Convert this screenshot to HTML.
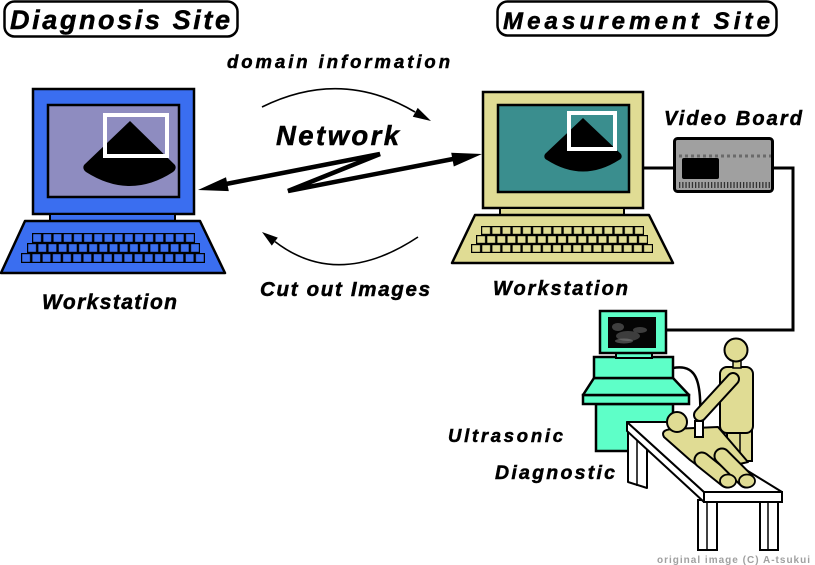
<!DOCTYPE html>
<html><head><meta charset="utf-8"><style>
html,body{margin:0;padding:0;background:#fff;}
svg{display:block;}
text{font-family:"Liberation Sans",sans-serif;font-weight:bold;font-style:italic;fill:#000;stroke:#000;stroke-width:0.5;}
</style></head><body>
<svg width="815" height="565" viewBox="0 0 815 565" xmlns="http://www.w3.org/2000/svg">
<defs>
<pattern id="kl1" x="32" y="233" width="10.19" height="10" patternUnits="userSpaceOnUse"><rect x="1.2" y="1.2" width="7.8" height="7.6" fill="#3a6ef0"/></pattern>
<pattern id="kl2" x="27" y="243" width="10.18" height="10" patternUnits="userSpaceOnUse"><rect x="1.2" y="1.2" width="7.8" height="7.6" fill="#3a6ef0"/></pattern>
<pattern id="kl3" x="21" y="253" width="10.22" height="10" patternUnits="userSpaceOnUse"><rect x="1.2" y="1.2" width="7.8" height="7.6" fill="#3a6ef0"/></pattern>
<pattern id="kr1" x="481" y="226" width="10.19" height="9" patternUnits="userSpaceOnUse"><rect x="1.2" y="1.2" width="7.8" height="6.6" fill="#e0dc94"/></pattern>
<pattern id="kr2" x="476" y="235" width="10.12" height="9" patternUnits="userSpaceOnUse"><rect x="1.2" y="1.2" width="7.8" height="6.6" fill="#e0dc94"/></pattern>
<pattern id="kr3" x="471" y="244" width="10.11" height="9" patternUnits="userSpaceOnUse"><rect x="1.2" y="1.2" width="7.8" height="6.6" fill="#e0dc94"/></pattern>
</defs>

<!-- Title boxes -->
<rect x="4.5" y="1.5" width="233" height="35" rx="10" fill="#fff" stroke="#000" stroke-width="2.5"/>
<text x="10" y="29" font-size="27" textLength="220" lengthAdjust="spacing">Diagnosis Site</text>
<rect x="497.5" y="1.5" width="279" height="34" rx="10" fill="#fff" stroke="#000" stroke-width="2.5"/>
<text x="503" y="29" font-size="24" textLength="267" lengthAdjust="spacing">Measurement Site</text>

<!-- Left workstation -->
<rect x="33" y="89" width="161" height="125" fill="#3a6ef0" stroke="#000" stroke-width="2.5"/>
<rect x="48" y="105" width="131" height="92" fill="#8e8cc0" stroke="#000" stroke-width="2.5"/>
<path d="M130,121 L84,165 Q82,169 86,172 Q130,200 173,172 Q177,169 175,165 Z" fill="#000"/>
<rect x="105" y="115" width="62" height="41" fill="none" stroke="#fff" stroke-width="4"/>
<rect x="50" y="214" width="125" height="7" fill="#3a6ef0" stroke="#000" stroke-width="2"/>
<polygon points="25,221 200,221 225,273 1,273" fill="#3a6ef0" stroke="#000" stroke-width="2.5" stroke-linejoin="round"/>
<rect x="32" y="233" width="163" height="10" fill="#000"/><rect x="32" y="233" width="163" height="10" fill="url(#kl1)"/>
<rect x="27" y="243" width="173" height="10" fill="#000"/><rect x="27" y="243" width="173" height="10" fill="url(#kl2)"/>
<rect x="21" y="253" width="184" height="10" fill="#000"/><rect x="21" y="253" width="184" height="10" fill="url(#kl3)"/>
<text x="42" y="309" font-size="21" textLength="135" lengthAdjust="spacing">Workstation</text>

<!-- Right workstation -->
<rect x="483" y="92" width="160" height="116" fill="#e0dc94" stroke="#000" stroke-width="2.5"/>
<rect x="498" y="105" width="131" height="87" fill="#3a8e8e" stroke="#000" stroke-width="2.5"/>
<path d="M583,118 L545,154 Q543,158 547,160 Q583,183 619,160 Q623,158 621,154 Z" fill="#000"/>
<rect x="569" y="113" width="46" height="36" fill="none" stroke="#fff" stroke-width="4"/>
<rect x="500" y="208" width="124" height="7" fill="#e0dc94" stroke="#000" stroke-width="2"/>
<polygon points="475,215 649,215 673,263 452,263" fill="#e0dc94" stroke="#000" stroke-width="2.5" stroke-linejoin="round"/>
<rect x="481" y="226" width="163" height="9" fill="#000"/><rect x="481" y="226" width="163" height="9" fill="url(#kr1)"/>
<rect x="476" y="235" width="172" height="9" fill="#000"/><rect x="476" y="235" width="172" height="9" fill="url(#kr2)"/>
<rect x="471" y="244" width="182" height="9" fill="#000"/><rect x="471" y="244" width="182" height="9" fill="url(#kr3)"/>
<text x="493" y="295" font-size="20" textLength="135" lengthAdjust="spacing">Workstation</text>

<!-- Network labels and arrows -->
<text x="227" y="68" font-size="18.5" textLength="223" lengthAdjust="spacing">domain information</text>
<path d="M262,107 Q341,68 415,112" fill="none" stroke="#000" stroke-width="1.6"/>
<polygon points="431,121 412.8,116.7 417.7,107.9" fill="#000"/>
<text x="276" y="145" font-size="27.5" textLength="123" lengthAdjust="spacing">Network</text>
<polyline points="226,184 380,154 288,191 453,159" fill="none" stroke="#000" stroke-width="4.5" stroke-linejoin="miter" stroke-miterlimit="10"/>
<polygon points="198,190 228.8,191.1 226,177.3" fill="#000"/>
<polygon points="482,154 453.8,166.5 451.2,152.7" fill="#000"/>
<path d="M418,237 Q338,290 275,241.6" fill="none" stroke="#000" stroke-width="1.6"/>
<polygon points="262,232 277.8,237.6 271.8,245.6" fill="#000"/>
<text x="260" y="296" font-size="20.5" textLength="170" lengthAdjust="spacing">Cut out Images</text>

<!-- Video board -->
<text x="664" y="125" font-size="20" textLength="138" lengthAdjust="spacing">Video Board</text>
<line x1="643" y1="168" x2="674" y2="168" stroke="#000" stroke-width="3"/>
<polyline points="773,168 793,168 793,330 666,330" fill="none" stroke="#000" stroke-width="3"/>
<rect x="674.5" y="138.5" width="98" height="53" rx="3" fill="#a0a0a0" stroke="#000" stroke-width="3"/>
<line x1="679" y1="156" x2="771" y2="156" stroke="#6a6a6a" stroke-width="3" stroke-dasharray="3,3"/>
<rect x="682" y="158" width="37" height="21" rx="2" fill="#000"/>
<line x1="679" y1="185" x2="771" y2="185" stroke="#333" stroke-width="6" stroke-dasharray="1.3,1.9"/>

<!-- Ultrasound machine -->
<rect x="596" y="404" width="77" height="47" fill="#5effc8" stroke="#000" stroke-width="2.5"/>
<rect x="583" y="395" width="106" height="9" fill="#5effc8" stroke="#000" stroke-width="2.5"/>
<polygon points="594,378 673,378 689,395 583,395" fill="#5effc8" stroke="#000" stroke-width="2.5" stroke-linejoin="round"/>
<rect x="594" y="357" width="79" height="21" fill="#5effc8" stroke="#000" stroke-width="2.5"/>
<rect x="616" y="353" width="36" height="5" fill="#5effc8" stroke="#000" stroke-width="2"/>
<rect x="600" y="311" width="66" height="42" fill="#5effc8" stroke="#000" stroke-width="2.5"/>
<rect x="608" y="317" width="48" height="31" fill="#050505"/>
<ellipse cx="628" cy="336" rx="12" ry="5" fill="#555" opacity="0.7"/>
<ellipse cx="618" cy="327" rx="6" ry="4" fill="#666" opacity="0.6"/>
<ellipse cx="640" cy="330" rx="7" ry="3" fill="#777" opacity="0.5"/>
<ellipse cx="624" cy="341" rx="9" ry="2.5" fill="#888" opacity="0.5"/>
<path d="M673,368 C695,364 702,378 700,420" fill="none" stroke="#000" stroke-width="2.5"/>

<!-- Standing person (behind table) -->
<rect x="727" y="425" width="25" height="36" fill="#e0dc94" stroke="#000" stroke-width="2"/>
<line x1="740" y1="433" x2="740" y2="460" stroke="#000" stroke-width="1.5"/>
<rect x="720" y="367" width="33" height="66" rx="7" fill="#e0dc94" stroke="#000" stroke-width="2"/>
<rect x="733" y="360" width="8" height="8" fill="#e0dc94" stroke="#000" stroke-width="1.5"/>
<circle cx="736" cy="350" r="11.5" fill="#e0dc94" stroke="#000" stroke-width="2"/>

<!-- Table -->
<polygon points="628,430 647,430 647,488 628,482" fill="#fff" stroke="#000" stroke-width="2" stroke-linejoin="round"/>
<line x1="637" y1="432" x2="637" y2="486" stroke="#000" stroke-width="1.5"/>
<rect x="698" y="500" width="19" height="50" fill="#fff" stroke="#000" stroke-width="2"/>
<line x1="707" y1="502" x2="707" y2="550" stroke="#000" stroke-width="1.5"/>
<rect x="760" y="500" width="18" height="50" fill="#fff" stroke="#000" stroke-width="2"/>
<line x1="768" y1="502" x2="768" y2="550" stroke="#000" stroke-width="1.5"/>
<polygon points="627,422 704,492 704,502 627,431" fill="#fff" stroke="#000" stroke-width="2" stroke-linejoin="round"/>
<rect x="704" y="492" width="78" height="10" fill="#fff" stroke="#000" stroke-width="2"/>
<polygon points="627,422 668,422 782,492 704,492" fill="#fff" stroke="#000" stroke-width="2" stroke-linejoin="round"/>

<!-- Patient -->
<path d="M664,437 Q660,430 672,429 L718,427 L748,462 L706,472 L690,460 Z" fill="#e0dc94" stroke="#000" stroke-width="2" stroke-linejoin="round"/>
<line x1="702" y1="460" x2="727" y2="480" stroke="#000" stroke-width="17" stroke-linecap="round"/>
<line x1="702" y1="460" x2="727" y2="480" stroke="#e0dc94" stroke-width="13" stroke-linecap="round"/>
<line x1="722" y1="456" x2="746" y2="480" stroke="#000" stroke-width="17" stroke-linecap="round"/>
<line x1="722" y1="456" x2="746" y2="480" stroke="#e0dc94" stroke-width="13" stroke-linecap="round"/>
<ellipse cx="728" cy="481" rx="8" ry="6.5" fill="#e0dc94" stroke="#000" stroke-width="1.8"/>
<ellipse cx="747" cy="481" rx="8" ry="6.5" fill="#e0dc94" stroke="#000" stroke-width="1.8"/>
<circle cx="677" cy="422" r="10" fill="#e0dc94" stroke="#000" stroke-width="2"/>

<!-- Arm and probe -->
<line x1="733" y1="379" x2="700" y2="415" stroke="#000" stroke-width="14" stroke-linecap="round"/>
<line x1="733" y1="379" x2="700" y2="415" stroke="#e0dc94" stroke-width="10" stroke-linecap="round"/>
<rect x="695" y="421" width="8" height="16" fill="#fff" stroke="#000" stroke-width="2"/>

<text x="448" y="442" font-size="18.5" textLength="115" lengthAdjust="spacing">Ultrasonic</text>
<text x="495" y="479" font-size="19.5" textLength="120" lengthAdjust="spacing">Diagnostic</text>

<text x="657" y="563" font-size="10" textLength="153" lengthAdjust="spacing" style="fill:#a0a0a0;stroke:none;font-style:normal;">original image (C) A-tsukui</text>
</svg>
</body></html>
